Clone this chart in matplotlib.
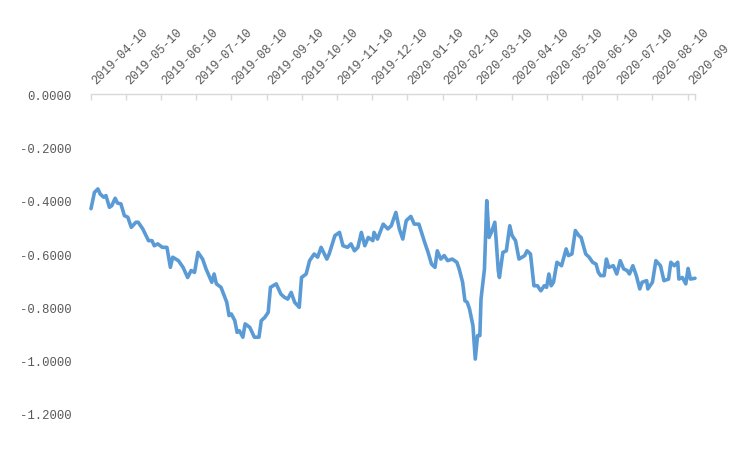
import matplotlib
matplotlib.use('Agg')
import matplotlib.pyplot as plt
import matplotlib.transforms as mtransforms
import pandas as pd

plt.rcParams['font.family'] = ['Liberation Mono', 'DejaVu Sans']

# 读图估计的数据
dates = [
    "2019-04-10", "2019-04-13", "2019-04-16", "2019-04-18", "2019-04-21", "2019-04-23",
    "2019-04-26", "2019-04-28", "2019-05-01", "2019-05-03", "2019-05-06", "2019-05-09",
    "2019-05-12", "2019-05-15", "2019-05-19", "2019-05-21", "2019-05-25", "2019-05-30",
    "2019-06-02", "2019-06-04", "2019-06-07", "2019-06-11", "2019-06-15", "2019-06-18",
    "2019-06-20", "2019-06-25", "2019-06-29", "2019-07-03", "2019-07-06", "2019-07-09",
    "2019-07-12", "2019-07-16", "2019-07-19", "2019-07-24", "2019-07-26", "2019-07-28",
    "2019-08-01", "2019-08-06", "2019-08-08", "2019-08-10", "2019-08-13", "2019-08-15",
    "2019-08-17", "2019-08-20", "2019-08-22", "2019-08-26", "2019-08-30", "2019-09-03",
    "2019-09-05", "2019-09-08", "2019-09-11", "2019-09-13", "2019-09-18", "2019-09-22",
    "2019-09-25", "2019-09-28", "2019-10-01", "2019-10-04", "2019-10-08", "2019-10-10",
    "2019-10-14", "2019-10-17", "2019-10-21", "2019-10-24", "2019-10-27", "2019-11-01",
    "2019-11-03", "2019-11-08", "2019-11-12", "2019-11-15", "2019-11-19", "2019-11-22",
    "2019-11-25", "2019-11-28", "2019-12-01", "2019-12-04", "2019-12-07", "2019-12-11",
    "2019-12-12", "2019-12-15", "2019-12-20", "2019-12-24", "2019-12-27", "2019-12-31",
    "2020-01-03", "2020-01-06", "2020-01-09", "2020-01-13", "2020-01-16", "2020-01-20",
    "2020-01-25", "2020-01-28", "2020-01-31", "2020-02-03", "2020-02-05", "2020-02-08",
    "2020-02-11", "2020-02-14", "2020-02-18", "2020-02-22", "2020-02-24", "2020-02-27",
    "2020-02-29", "2020-03-02", "2020-03-04", "2020-03-07", "2020-03-09", "2020-03-11",
    "2020-03-13", "2020-03-14", "2020-03-17", "2020-03-19", "2020-03-21", "2020-03-23",
    "2020-03-26", "2020-03-27", "2020-03-29", "2020-03-30", "2020-04-02", "2020-04-05",
    "2020-04-08", "2020-04-10", "2020-04-13", "2020-04-16", "2020-04-21", "2020-04-23",
    "2020-04-26", "2020-04-29", "2020-05-02", "2020-05-05", "2020-05-08", "2020-05-10",
    "2020-05-12", "2020-05-14", "2020-05-16", "2020-05-19", "2020-05-23", "2020-05-27",
    "2020-05-29", "2020-06-01", "2020-06-04", "2020-06-07", "2020-06-09", "2020-06-13",
    "2020-06-16", "2020-06-19", "2020-06-22", "2020-06-24", "2020-06-26", "2020-06-29",
    "2020-07-01", "2020-07-03", "2020-07-07", "2020-07-10", "2020-07-13", "2020-07-16",
    "2020-07-19", "2020-07-21", "2020-07-24", "2020-07-27", "2020-07-30", "2020-08-01",
    "2020-08-05", "2020-08-06", "2020-08-10", "2020-08-13", "2020-08-17", "2020-08-20",
    "2020-08-24", "2020-08-26", "2020-08-29", "2020-09-01", "2020-09-02", "2020-09-05",
    "2020-09-08", "2020-09-10", "2020-09-12", "2020-09-16",
]
values = [
    -0.430, -0.369, -0.356, -0.375, -0.387, -0.381,
    -0.425, -0.419, -0.391, -0.409, -0.412, -0.456,
    -0.462, -0.500, -0.481, -0.481, -0.506, -0.550,
    -0.550, -0.569, -0.562, -0.575, -0.575, -0.650,
    -0.612, -0.625, -0.650, -0.688, -0.662, -0.669,
    -0.594, -0.619, -0.656, -0.706, -0.675, -0.712,
    -0.725, -0.781, -0.831, -0.825, -0.850, -0.894,
    -0.888, -0.912, -0.862, -0.875, -0.912, -0.912,
    -0.850, -0.838, -0.819, -0.725, -0.712, -0.750,
    -0.762, -0.769, -0.744, -0.781, -0.800, -0.688,
    -0.675, -0.625, -0.600, -0.612, -0.575, -0.619,
    -0.600, -0.531, -0.519, -0.569, -0.575, -0.562,
    -0.588, -0.575, -0.519, -0.569, -0.538, -0.550,
    -0.519, -0.544, -0.488, -0.506, -0.494, -0.444,
    -0.506, -0.544, -0.475, -0.459, -0.488, -0.488,
    -0.556, -0.594, -0.638, -0.650, -0.588, -0.619,
    -0.606, -0.625, -0.619, -0.631, -0.656, -0.706,
    -0.775, -0.781, -0.806, -0.869, -0.994, -0.906,
    -0.906, -0.769, -0.656, -0.400, -0.538, -0.519,
    -0.481, -0.538, -0.662, -0.688, -0.594, -0.588,
    -0.494, -0.531, -0.550, -0.619, -0.606, -0.588,
    -0.600, -0.719, -0.719, -0.738, -0.719, -0.725,
    -0.675, -0.719, -0.706, -0.631, -0.644, -0.581,
    -0.606, -0.600, -0.512, -0.531, -0.538, -0.600,
    -0.612, -0.631, -0.638, -0.669, -0.681, -0.681,
    -0.619, -0.650, -0.644, -0.675, -0.625, -0.656,
    -0.662, -0.675, -0.644, -0.681, -0.731, -0.706,
    -0.700, -0.731, -0.706, -0.625, -0.644, -0.700,
    -0.694, -0.631, -0.644, -0.631, -0.694, -0.688,
    -0.712, -0.654, -0.694, -0.691,
]

tick_dates = [
    "2019-04-10", "2019-05-10", "2019-06-10", "2019-07-10", "2019-08-10", "2019-09-10",
    "2019-10-10", "2019-11-10", "2019-12-10", "2020-01-10", "2020-02-10", "2020-03-10",
    "2020-04-10", "2020-05-10", "2020-06-10", "2020-07-10", "2020-08-10", "2020-09-10",
]
tick_labels = tick_dates[:-1] + ["2020-09"]  # 原图最后一个标签被截断
y_ticks = [0.0, -0.2, -0.4, -0.6, -0.8, -1.0, -1.2]

fig = plt.figure(figsize=(7.52, 4.56), dpi=100)
ax = fig.add_axes([91 / 752, 41 / 456, 604 / 752, 320 / 456])

ax.plot(pd.to_datetime(dates), values, color='#5b9bd5', lw=2.6,
        solid_joinstyle='round', solid_capstyle='round', clip_on=False)

ax.set_xlim(pd.Timestamp("2019-04-10"), pd.Timestamp("2020-09-16"))
ax.set_ylim(-1.2, 0)

ax.xaxis.tick_top()
ax.set_xticks(pd.to_datetime(tick_dates))
ax.set_xticklabels(tick_labels)
ax.set_xticks([pd.Timestamp("2020-09-16")], minor=True)
ax.tick_params(axis='x', which='both', direction='in', length=4, width=1,
               color='#d9d9d9', labelcolor='#595959', labelsize=8.8, pad=7)
offset = mtransforms.ScaledTranslation(5 / 72, -1 / 72, fig.dpi_scale_trans)
for lab in ax.get_xticklabels():
    lab.set_rotation(45)
    lab.set_ha('left')
    lab.set_va('bottom')
    lab.set_rotation_mode('anchor')
    lab.set_transform(lab.get_transform() + offset)

ax.set_yticks(y_ticks)
ax.set_yticklabels(['%.4f' % v for v in y_ticks])
ax.tick_params(axis='y', length=0, labelcolor='#595959', labelsize=8.8, pad=14)

for s in ['left', 'right', 'bottom']:
    ax.spines[s].set_visible(False)
ax.spines['top'].set_color('#d9d9d9')
ax.spines['top'].set_linewidth(1)

plt.savefig('out.png', dpi=100, facecolor='white')
